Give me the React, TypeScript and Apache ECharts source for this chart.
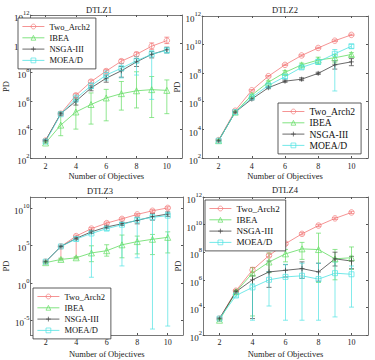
import React, { useEffect, useRef } from 'react';
import * as echarts from 'echarts';

// x values (number of objectives)
const objectives = [2, 3, 4, 5, 6, 7, 8, 9, 10];
const xTicks = [2, 4, 6, 8, 10];
const seriesNames = ['Two_Arch2', 'IBEA', 'NSGA-III', 'MOEA/D'];
const panelTitles = ['DTLZ1', 'DTLZ2', 'DTLZ3', 'DTLZ4'];
// y tick exponents (labels 10^n)
const yTicksA = [2, 4, 6, 8, 10, 12];
const yTicksC = [-5, 0, 5, 10];

// All values below are log10(PD)
// DTLZ1
const d1Two = [3.22, 5.1, 6.38, 7.34, 8.08, 8.77, 9.25, 9.82, 10.21];
const d1TwoLo = [3.15, 5.0, 6.25, 7.22, 7.97, 8.62, 9.1, 9.6, 10.0];
const d1TwoHi = [3.3, 5.2, 6.5, 7.46, 8.2, 8.9, 9.4, 10.05, 10.45];
const d1Ibea = [3.05, 4.3, 5.22, 5.74, 6.2, 6.5, 6.7, 6.78, 6.73];
const d1IbeaLo = [3.0, 3.56, 4.02, 4.37, 4.6, 5.35, 5.5, 4.83, 5.1];
const d1IbeaHi = [3.12, 5.2, 6.1, 6.55, 6.8, 7.35, 8.03, 7.7, 7.46];
const d1Nsga = [3.22, 5.1, 5.97, 6.9, 7.58, 8.1, 8.72, 9.25, 9.57];
const d1NsgaLo = [3.15, 5.0, 5.7, 6.7, 7.3, 7.65, 8.4, 9.0, 9.35];
const d1NsgaHi = [3.3, 5.2, 6.2, 7.05, 7.8, 8.4, 8.95, 9.45, 9.75];
const d1Moead = [3.15, 5.06, 6.16, 7.05, 7.8, 8.28, 8.8, 9.25, 9.53];
const d1MoeadLo = [3.1, 5.0, 5.9, 6.85, 7.45, 7.6, 7.8, 6.1, 9.35];
const d1MoeadHi = [3.2, 5.12, 6.4, 7.25, 8.1, 8.6, 9.1, 9.5, 9.7];

// DTLZ2
const d2Two = [3.26, 5.33, 6.77, 7.76, 8.56, 9.22, 9.75, 10.26, 10.67];
const d2TwoLo = [3.22, 5.28, 6.72, 7.71, 8.51, 9.17, 9.7, 10.2, 10.62];
const d2TwoHi = [3.3, 5.38, 6.82, 7.81, 8.61, 9.27, 9.8, 10.32, 10.72];
const d2Ibea = [3.22, 5.23, 6.43, 7.34, 8.03, 8.56, 8.9, 9.06, 9.29];
const d2IbeaLo = [3.18, 5.18, 6.35, 7.25, 7.9, 8.45, 8.6, 8.7, 9.15];
const d2IbeaHi = [3.26, 5.28, 6.5, 7.43, 8.15, 8.68, 9.1, 9.3, 9.42];
const d2Nsga = [3.22, 5.23, 6.15, 6.95, 7.41, 7.55, 7.96, 8.56, 8.77];
const d2NsgaLo = [3.18, 5.18, 6.08, 6.88, 7.33, 7.45, 7.88, 8.26, 8.5];
const d2NsgaHi = [3.26, 5.28, 6.22, 7.02, 7.49, 7.65, 8.04, 8.84, 9.0];
const d2Moead = [3.22, 5.23, 6.27, 7.11, 7.73, 8.38, 8.77, 9.34, 9.87];
const d2MoeadLo = [3.18, 5.18, 6.2, 7.0, 7.6, 8.25, 8.6, 6.72, 9.72];
const d2MoeadHi = [3.26, 5.28, 6.34, 7.22, 7.86, 8.5, 8.95, 9.64, 10.0];

// DTLZ3
const d3Two = [2.83, 4.87, 6.26, 7.26, 8.0, 8.57, 9.17, 9.65, 10.04];
const d3TwoLo = [2.75, 3.2, 3.35, 7.1, 7.85, 8.4, 9.0, 9.45, 9.85];
const d3TwoHi = [2.9, 4.95, 6.4, 7.4, 8.15, 8.7, 9.3, 9.8, 10.2];
const d3Ibea = [2.7, 3.13, 3.35, 4.0, 4.3, 5.09, 5.52, 5.83, 6.09];
const d3IbeaLo = [2.6, 2.95, 3.2, 2.83, 3.57, 3.35, 3.87, 3.78, 4.0];
const d3IbeaHi = [2.8, 3.3, 3.5, 4.96, 5.1, 6.4, 6.26, 6.48, 6.83];
const d3Nsga = [2.83, 4.87, 5.96, 6.83, 7.48, 7.91, 8.35, 8.87, 9.22];
const d3NsgaLo = [2.75, 4.8, 5.8, 6.6, 7.3, 7.7, 7.9, 8.4, 8.9];
const d3NsgaHi = [2.9, 4.95, 6.1, 7.0, 7.65, 8.1, 8.8, 9.3, 9.5];
const d3Moead = [2.83, 4.87, 5.87, 6.61, 7.26, 7.78, 8.43, 8.78, 9.0];
const d3MoeadLo = [2.75, 4.8, 5.6, 0.74, 7.0, 2.26, 3.35, -6.2, -5.8];
const d3MoeadHi = [2.9, 4.95, 6.1, 6.9, 7.5, 8.1, 8.7, 9.1, 9.4];

// DTLZ4
const d4Two = [3.19, 5.21, 6.71, 7.76, 8.62, 9.33, 9.93, 10.45, 10.88];
const d4TwoLo = [3.12, 5.12, 6.55, 7.65, 8.52, 9.25, 9.85, 10.37, 10.8];
const d4TwoHi = [3.26, 5.3, 6.9, 7.88, 8.72, 9.42, 10.02, 10.53, 10.96];
const d4Ibea = [3.07, 5.14, 6.48, 7.29, 7.88, 8.24, 8.19, 7.52, 7.6];
const d4IbeaLo = [3.0, 5.05, 3.38, 6.52, 7.3, 7.48, 5.81, 6.0, 6.76];
const d4IbeaHi = [3.14, 5.22, 6.88, 7.95, 8.2, 8.71, 9.38, 8.2, 8.38];
const d4Nsga = [3.19, 5.14, 6.0, 6.57, 6.69, 6.81, 6.57, 7.52, 7.36];
const d4NsgaLo = [3.12, 5.05, 3.19, 5.45, 6.2, 6.1, 5.9, 7.0, 6.8];
const d4NsgaHi = [3.26, 5.22, 6.29, 7.36, 7.1, 7.3, 7.2, 8.0, 7.7];
const d4Moead = [3.19, 4.86, 5.45, 6.0, 6.21, 6.29, 6.05, 6.48, 6.4];
const d4MoeadLo = [3.12, 4.75, 3.07, 4.1, 3.07, 3.07, 3.07, 3.31, 4.02];
const d4MoeadHi = [3.26, 4.95, 5.7, 6.6, 7.12, 7.2, 7.2, 7.29, 7.0];

const panelData = [
  [[d1Two, d1TwoLo, d1TwoHi], [d1Ibea, d1IbeaLo, d1IbeaHi], [d1Nsga, d1NsgaLo, d1NsgaHi], [d1Moead, d1MoeadLo, d1MoeadHi]],
  [[d2Two, d2TwoLo, d2TwoHi], [d2Ibea, d2IbeaLo, d2IbeaHi], [d2Nsga, d2NsgaLo, d2NsgaHi], [d2Moead, d2MoeadLo, d2MoeadHi]],
  [[d3Two, d3TwoLo, d3TwoHi], [d3Ibea, d3IbeaLo, d3IbeaHi], [d3Nsga, d3NsgaLo, d3NsgaHi], [d3Moead, d3MoeadLo, d3MoeadHi]],
  [[d4Two, d4TwoLo, d4TwoHi], [d4Ibea, d4IbeaLo, d4IbeaHi], [d4Nsga, d4NsgaLo, d4NsgaHi], [d4Moead, d4MoeadLo, d4MoeadHi]],
];

const FONT = 'Liberation Serif';
const colors = ['#f27878', '#62dc62', '#444444', '#4fe2e2'];
const symbols = ['circle', 'triangle', 'path://M0,5L10,5M5,0L5,10', 'rect'];
const symbolSizes = [5.5, 6, 5, 5];

const grids = [
  { left: 17, top: 15, width: 165, height: 143 },
  { left: 202, top: 16, width: 166, height: 142 },
  { left: 18, top: 197, width: 165, height: 138 },
  { left: 203, top: 197, width: 165, height: 138 },
];
const yRanges = [
  { min: 2, max: 12, ticks: yTicksA },
  { min: 2, max: 12, ticks: yTicksA },
  { min: -7, max: 11.5, ticks: yTicksC },
  { min: 2, max: 12, ticks: yTicksA },
];
const legendPos = [
  { left: 18, top: 18, size: 8.5 },
  { left: 278, top: 103, size: 9.6 },
  { left: 33, top: 288, size: 8.5 },
  { left: 205, top: 200, size: 9.1 },
];
const titlePos = [
  { x: 99, y: 5 },
  { x: 285, y: 5 },
  { x: 100, y: 186 },
  { x: 285, y: 185 },
];

const AXIS_COLOR = '#555';

function errRender(color: string) {
  return (params: any, api: any) => {
    const x = api.value(0);
    const lo = api.value(1);
    const hi = api.value(2);
    const top = api.coord([x, hi]);
    const bot = api.coord([x, lo]);
    const w = 2.5;
    const style = { stroke: color, lineWidth: 0.7, fill: 'none' };
    return {
      type: 'group',
      children: [
        { type: 'line', shape: { x1: top[0], y1: top[1], x2: bot[0], y2: bot[1] }, style },
        { type: 'line', shape: { x1: top[0] - w, y1: top[1], x2: top[0] + w, y2: top[1] }, style },
        { type: 'line', shape: { x1: bot[0] - w, y1: bot[1], x2: bot[0] + w, y2: bot[1] }, style },
      ],
    };
  };
}

export default function App() {
  const ref = useRef<HTMLDivElement>(null);
  useEffect(() => {
    if (!ref.current) return;
    const chart = echarts.init(ref.current, undefined, { renderer: 'svg' });

    const xAxes: any[] = [];
    const yAxes: any[] = [];
    const series: any[] = [];

    grids.forEach((g, i) => {
      const yr = yRanges[i];
      const lower = i >= 2;
      xAxes.push({
        type: 'value', gridIndex: i, min: 1, max: 11, position: 'bottom',
        name: 'Number of Objectives', nameLocation: 'middle', nameGap: lower ? 14 : 13,
        nameTextStyle: { fontFamily: FONT, fontSize: 8.5, color: '#222', lineHeight: 9 },
        axisLine: { show: true, onZero: false, lineStyle: { color: AXIS_COLOR, width: 0.8 } },
        axisTick: { show: true, inside: true, length: 2, customValues: xTicks, lineStyle: { color: AXIS_COLOR } },
        axisLabel: { show: true, customValues: xTicks, margin: lower ? 3 : 4, fontFamily: FONT, fontSize: 8, lineHeight: 8, color: '#222' },
        splitLine: { show: false },
      });
      yAxes.push({
        type: 'value', gridIndex: i, min: yr.min, max: yr.max, position: 'left',
        name: 'PD', nameLocation: 'middle', nameGap: 9,
        nameTextStyle: { fontFamily: FONT, fontSize: 8.5, color: '#222' },
        axisLine: { show: true, onZero: false, lineStyle: { color: AXIS_COLOR, width: 0.8 } },
        axisTick: { show: true, inside: true, length: 2, customValues: yr.ticks, lineStyle: { color: AXIS_COLOR } },
        axisLabel: {
          show: true, customValues: yr.ticks, margin: 1,
          formatter: (v: number) => `{b|10}{s|${v}}`,
          rich: {
            b: { fontFamily: FONT, fontSize: 9, color: '#222', padding: [6, 0, 0, 0] },
            s: { fontFamily: FONT, fontSize: 6.5, color: '#222', padding: [0, 0, 5, 0] },
          },
        },
        splitLine: { show: false },
      });
    });
    // mirrored top/right axes for MATLAB-style box
    grids.forEach((g, i) => {
      const yr = yRanges[i];
      xAxes.push({
        type: 'value', gridIndex: i, min: 1, max: 11, position: 'top',
        axisLine: { show: true, onZero: false, lineStyle: { color: AXIS_COLOR, width: 0.8 } },
        axisTick: { show: true, inside: true, length: 2, customValues: xTicks, lineStyle: { color: AXIS_COLOR } },
        axisLabel: { show: false },
        splitLine: { show: false },
      });
      yAxes.push({
        type: 'value', gridIndex: i, min: yr.min, max: yr.max, position: 'right',
        axisLine: { show: true, onZero: false, lineStyle: { color: AXIS_COLOR, width: 0.8 } },
        axisTick: { show: true, inside: true, length: 2, customValues: yr.ticks, lineStyle: { color: AXIS_COLOR } },
        axisLabel: { show: false },
        splitLine: { show: false },
      });
    });

    panelData.forEach((panel, i) => {
      panel.forEach((arrs, k) => {
        const [mean, lo, hi] = arrs;
        series.push({
          type: 'custom', name: seriesNames[k] + ' error', xAxisIndex: i, yAxisIndex: i,
          renderItem: errRender(colors[k]), clip: true,
          encode: { x: 0, y: [1, 2] },
          data: objectives.map((x, j) => [x, lo[j], hi[j]]),
          z: 2,
        });
        series.push({
          type: 'line', name: seriesNames[k], xAxisIndex: i, yAxisIndex: i,
          data: objectives.map((x, j) => [x, mean[j]]),
          symbol: symbols[k], symbolSize: symbolSizes[k], showSymbol: true,
          lineStyle: { color: colors[k], width: 0.8 },
          itemStyle: { color: 'rgba(255,255,255,0)', borderColor: colors[k], borderWidth: 0.7 },
          z: 3,
        });
      });
    });

    const option: any = {
      animation: false,
      backgroundColor: '#fff',
      title: panelTitles.map((t, i) => ({
        text: t, left: titlePos[i].x, top: titlePos[i].y, textAlign: 'center', padding: 0,
        textStyle: { fontFamily: FONT, fontSize: 8.5, fontWeight: 'normal', color: '#222' },
      })),
      grid: grids.map((g) => ({ ...g, containLabel: false, show: false })),
      xAxis: xAxes,
      yAxis: yAxes,
      legend: legendPos.map((p) => ({
        data: seriesNames, orient: 'vertical', left: p.left, top: p.top,
        itemWidth: 22, itemHeight: 6, itemGap: 0.3, padding: [3, 6, 3, 4],
        borderColor: '#333', borderWidth: 0.8, backgroundColor: '#fff',
        selectedMode: false,
        lineStyle: { width: 0.8 },
        itemStyle: { borderWidth: 0.7 },
        textStyle: { fontFamily: FONT, fontSize: p.size, lineHeight: 11, color: '#111' },
      })),
      series,
    };
    chart.setOption(option);
    return () => chart.dispose();
  }, []);
  return <div ref={ref} style={{ position: 'fixed', left: 0, top: 0, width: 375, height: 360 }} />;
}
